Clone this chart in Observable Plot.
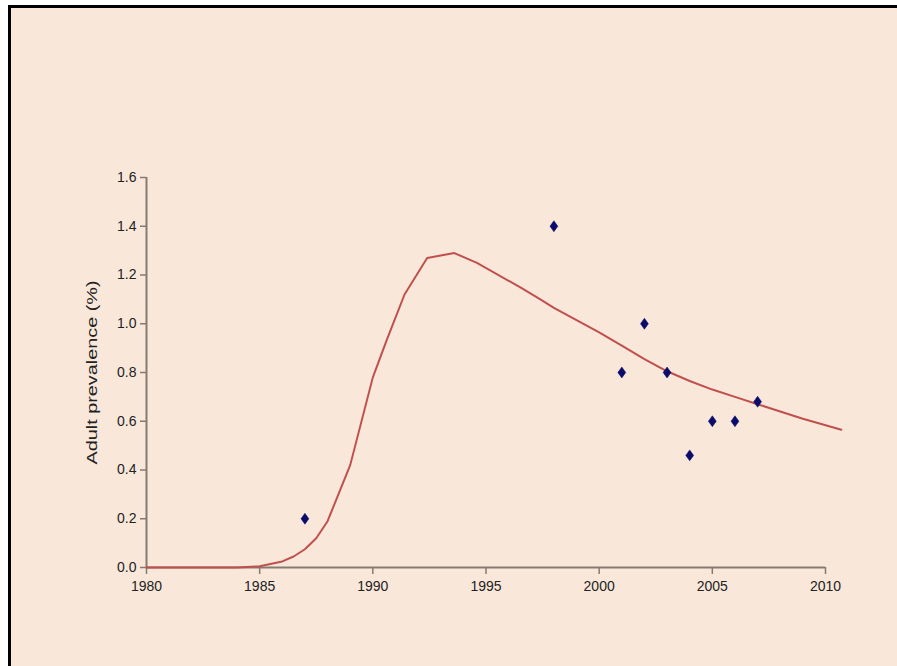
<!DOCTYPE html>
<html>
<head>
<meta charset="utf-8">
<script src="https://cdn.jsdelivr.net/npm/d3@7"></script>
<script src="https://cdn.jsdelivr.net/npm/@observablehq/plot@0.6"></script>
<style>
  html, body { margin: 0; padding: 0; background: #F9E8DA; overflow: hidden; }
  body { width: 897px; height: 666px; position: relative; font-family: "Liberation Sans", Arial, sans-serif; }
  .strip { position: absolute; background: #ffffff; }
  .edge { position: absolute; background: #000000; }
  #chart { position: absolute; left: 0; top: 0; }
</style>
</head>
<body>
<div class="strip" style="left:0;top:0;width:8px;height:666px"></div>
<div class="strip" style="left:0;top:0;width:897px;height:5px"></div>
<div class="edge" style="left:8px;top:5px;width:889px;height:2.5px"></div>
<div class="edge" style="left:8px;top:5px;width:2.5px;height:661px"></div>
<div id="chart"></div>
<script>
// Modelled prevalence curve
const lineYears  = [1980, 1982, 1984, 1985, 1986, 1986.5, 1987, 1987.5, 1988, 1989, 1990, 1990.6, 1991.4, 1992.4, 1993.6, 1994.6, 1996.5, 1997.4, 1998, 2000, 2001, 2002, 2003, 2004, 2005, 2006, 2007, 2008, 2009, 2010.7];
const lineValues = [0, 0, 0, 0.005, 0.025, 0.045, 0.075, 0.12, 0.19, 0.42, 0.78, 0.93, 1.12, 1.27, 1.29, 1.25, 1.15, 1.10, 1.065, 0.965, 0.91, 0.855, 0.805, 0.765, 0.73, 0.70, 0.67, 0.64, 0.61, 0.565];

// Observed survey points
const pointYears  = [1987, 1998, 2001, 2002, 2003, 2004, 2005, 2006, 2007];
const pointValues = [0.20, 1.40, 0.80, 1.00, 0.80, 0.46, 0.60, 0.60, 0.68];

const xTicks = [1980, 1985, 1990, 1995, 2000, 2005, 2010];
const yTicks = [0, 0.2, 0.4, 0.6, 0.8, 1.0, 1.2, 1.4, 1.6];
const yLabel = "Adult prevalence (%)";

const lineData = lineYears.map((x, i) => ({x, y: lineValues[i]}));
const pointData = pointYears.map((x, i) => ({x, y: pointValues[i]}));

const axisColor = "#857a72";

// tall diamond marker
const tallDiamond = {
  draw(context, size) {
    const h = Math.sqrt(size) * 0.62, w = h * 0.72;
    context.moveTo(0, -h);
    context.lineTo(w, 0);
    context.lineTo(0, h);
    context.lineTo(-w, 0);
    context.closePath();
  }
};

const chart = Plot.plot({
  width: 897,
  height: 666,
  marginLeft: 146,
  marginRight: 72,
  marginTop: 177,
  marginBottom: 99,
  style: { background: "transparent", fontFamily: "'Liberation Sans', Arial, sans-serif", color: "#222" },
  x: { domain: [1980, 2010], axis: null },
  y: { domain: [0, 1.6], axis: null },
  marks: [
    Plot.axisX({ ticks: xTicks, tickFormat: d => String(d), tickSize: 7, tickPadding: 7, stroke: axisColor, strokeWidth: 1.5, fontSize: 14, fill: "#222", label: null }),
    Plot.axisY({ ticks: yTicks, tickFormat: d3.format(".1f"), tickSize: 6, tickPadding: 4, stroke: axisColor, strokeWidth: 1.5, fontSize: 14, fill: "#222", label: null }),
    Plot.ruleY([0], { stroke: axisColor, strokeWidth: 2 }),
    Plot.ruleX([1980], { stroke: axisColor, strokeWidth: 2 }),
    Plot.line(lineData, { x: "x", y: "y", stroke: "#c0504d", strokeWidth: 2, curve: "linear", strokeLinejoin: "round" }),
    Plot.dot(pointData, { x: "x", y: "y", symbol: tallDiamond, r: 5, fill: "#0b0b6b", stroke: "#0b0b6b", strokeWidth: 0.5 }),
    Plot.text([yLabel], { frameAnchor: "left", dx: -54, rotate: -90, textAnchor: "middle", fontSize: 15, fill: "#222", text: d => d })
  ]
});

document.getElementById("chart").appendChild(chart);
d3.select(chart).selectAll("text")
  .filter(function() { return this.textContent === yLabel; })
  .attr("textLength", 184)
  .attr("lengthAdjust", "spacingAndGlyphs");
</script>
</body>
</html>
